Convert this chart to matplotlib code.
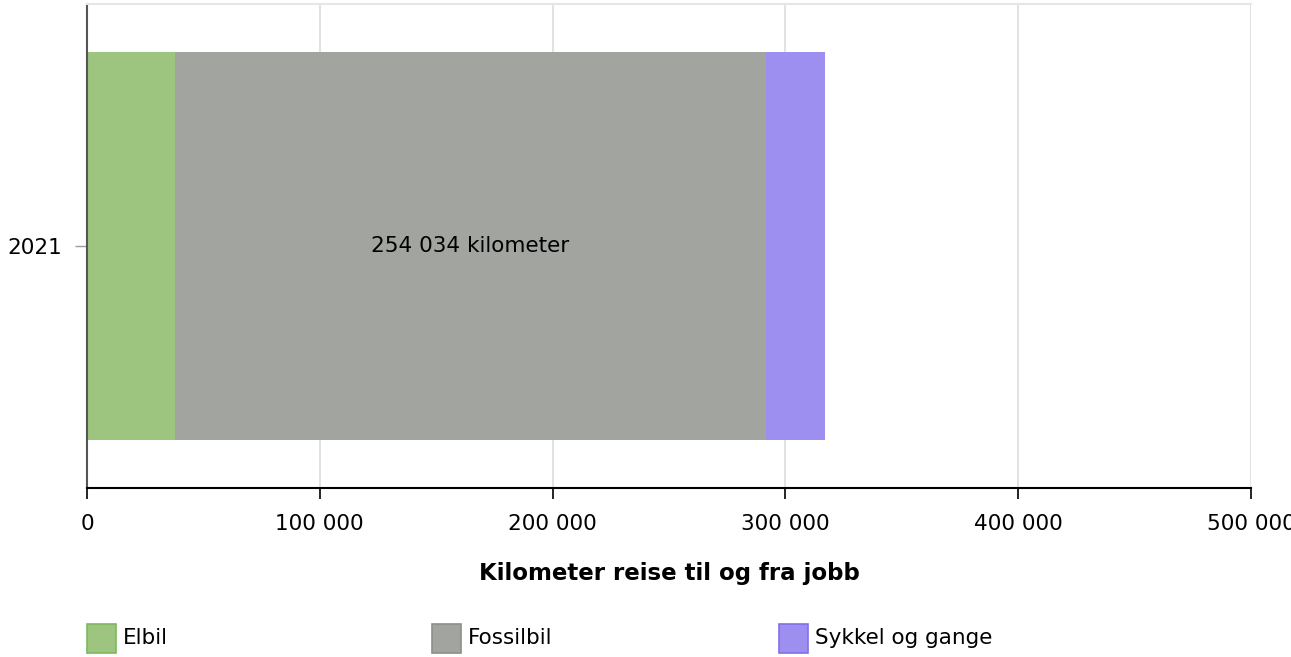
import matplotlib
matplotlib.use("Agg")
import matplotlib.pyplot as plt
from matplotlib.patches import Rectangle
from matplotlib.ticker import FuncFormatter

categories = ["2021"]
series_names = ["Elbil", "Fossilbil", "Sykkel og gange"]
elbil = [37600]
fossilbil = [254034]
sykkel = [25300]
values = [elbil, fossilbil, sykkel]
colors = ["#9dc57f", "#a2a49f", "#9c8ff0"]
edgecolors = ["#7cb85e", "#8d8f8a", "#8070e8"]
xticks = [0, 100000, 200000, 300000, 400000, 500000]
label_text = "254 034 kilometer"
xlabel = "Kilometer reise til og fra jobb"

FS = 15.5
plt.rcParams['font.family'] = ['DejaVu Sans']
fig = plt.figure(figsize=(12.91, 6.57), dpi=100)
ax = fig.add_axes([87/1291, 1-488/657, (1251-87)/1291, (488-4)/657])

left = [0]*len(categories)
for name, vals, c in zip(series_names, values, colors):
    ax.barh(categories, vals, left=left, height=0.8, color=c, edgecolor='none', zorder=2)
    left = [l+v for l, v in zip(left, vals)]

# label in fossil segment
ax.text(elbil[0] + fossilbil[0]/2, 0, label_text, ha='center', va='center', fontsize=FS, color='#000000', zorder=3)

ax.set_xlim(0, 500000)
ax.set_ylim(-0.5, 0.5)
ax.set_xticks(xticks)
ax.xaxis.set_major_formatter(FuncFormatter(lambda v, p: f"{int(v):,}".replace(",", " ")))
ax.grid(axis='x', color='#dddddd', linewidth=1.2, zorder=0)
ax.set_axisbelow(True)
ax.tick_params(axis='x', length=8, width=1.2, color='#000000', labelsize=FS, pad=11)
ax.tick_params(axis='y', length=9, width=1, color='#999999', labelsize=FS, pad=9)
ax.spines['right'].set_visible(False)
ax.spines['top'].set_color('#e6e6e6')
ax.spines['top'].set_linewidth(1.5)
ax.spines['left'].set_color('#555555')
ax.spines['left'].set_linewidth(1.5)
ax.spines['bottom'].set_color('#000000')
ax.spines['bottom'].set_linewidth(1.5)
ax.set_xlabel(xlabel, fontsize=16.5, fontweight='bold', labelpad=20)

# legend
leg_x = [87, 432, 779]
for x, name, c, ec in zip(leg_x, series_names, colors, edgecolors):
    fig.add_artist(Rectangle((x/1291, 1-653/657), 29/1291, 29/657, transform=fig.transFigure,
                             facecolor=c, edgecolor=ec, linewidth=1.2))
    fig.text((x+36)/1291, 1-638/657, name, fontsize=FS, va='center', ha='left')

fig.savefig("out.png", dpi=100)
